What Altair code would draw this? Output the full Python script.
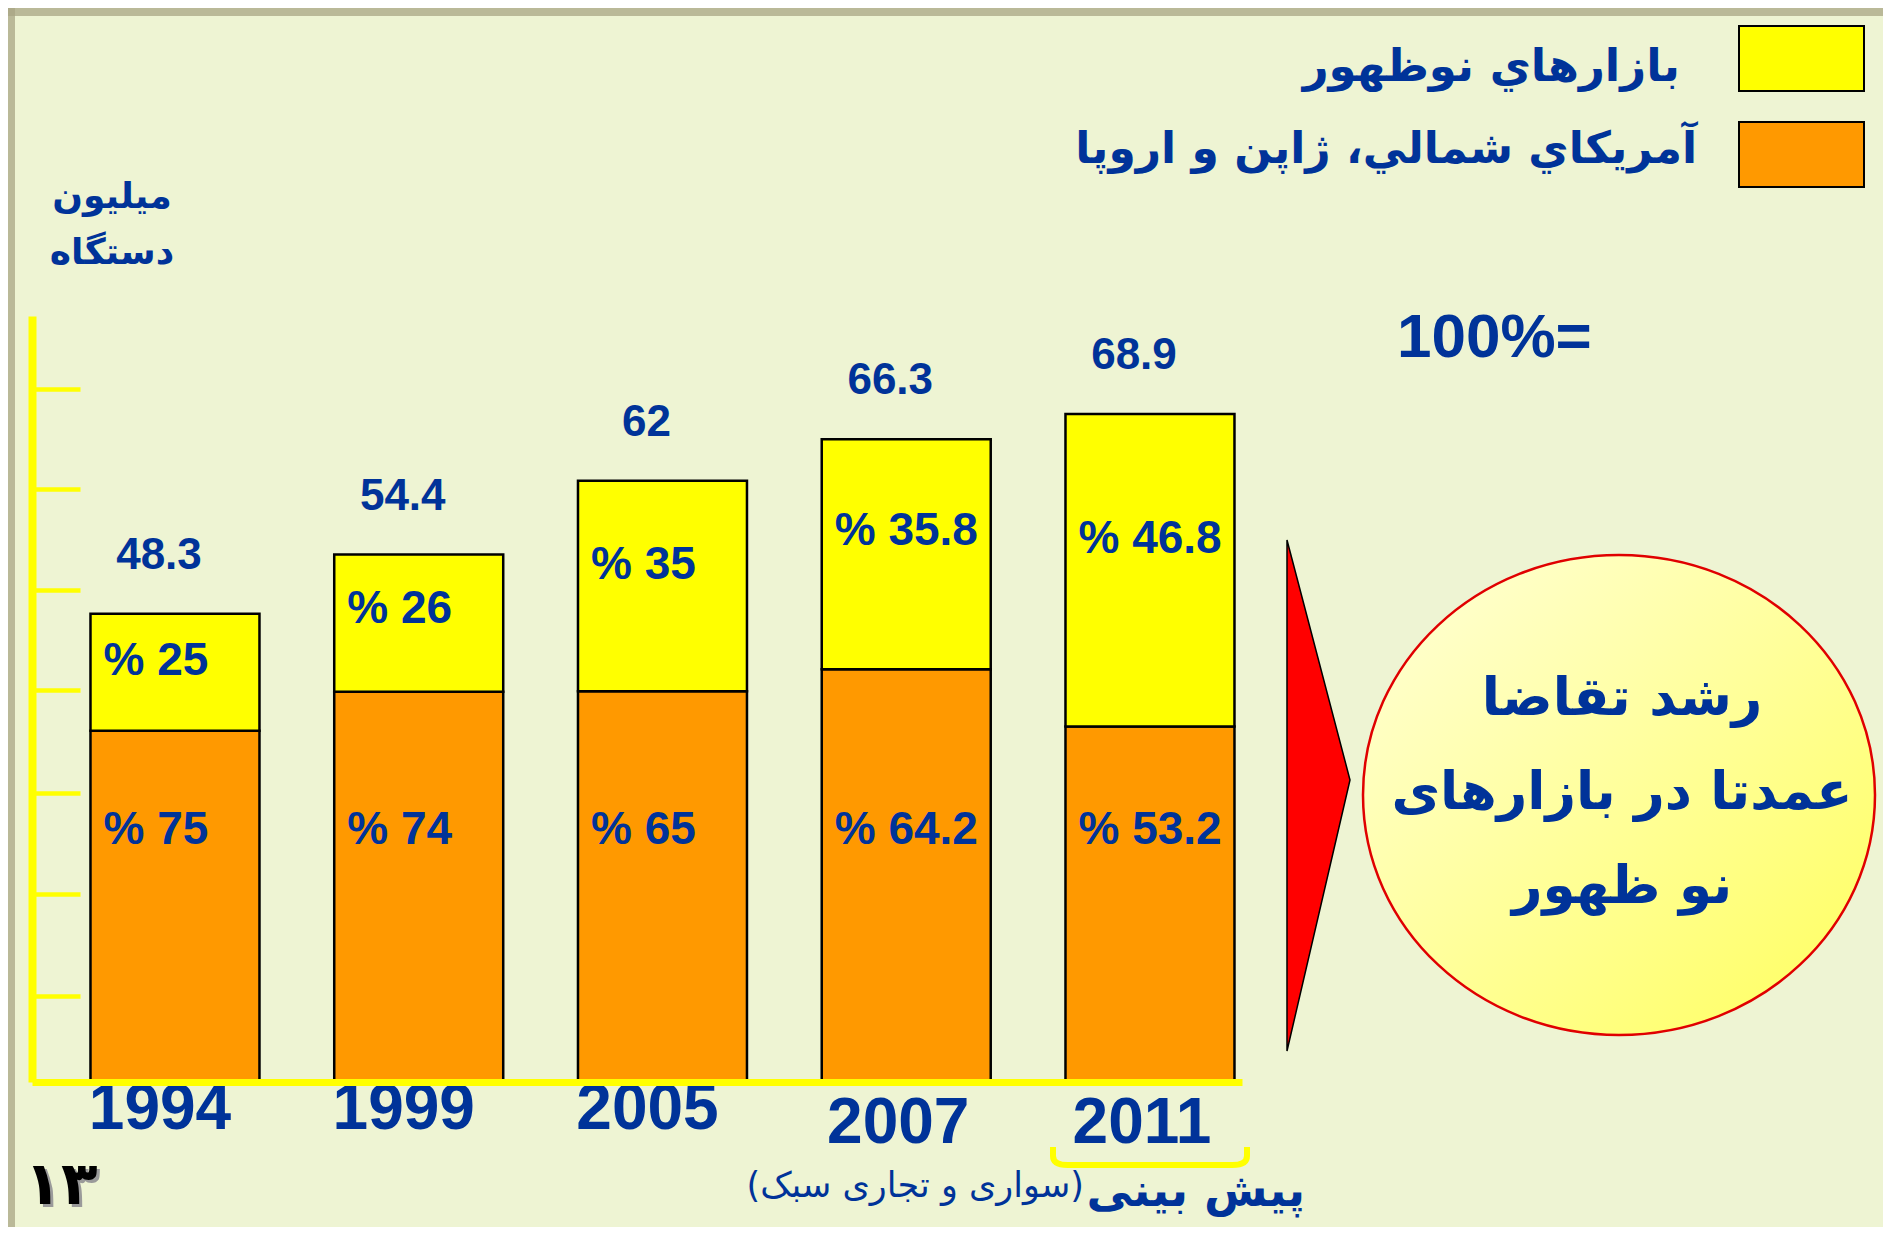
import altair as alt
import pandas as pd

# ---------------- data ----------------
years = ["1994", "1999", "2005", "2007", "2011"]
totals = [48.3, 54.4, 62, 66.3, 68.9]
share_emerging = [25, 26, 35, 35.8, 46.8]
share_mature = [75, 74, 65, 64.2, 53.2]
forecast_years = ["2007", "2011"]
y_ticks = [8.9, 19.4, 29.8, 40.4, 50.7, 61.2, 71.5]

legend_emerging = "بازارهاي نوظهور"
legend_mature = "آمريكاي شمالي، ژاپن و اروپا"
y_title = ["میلیون", "دستگاه"]
callout = ["رشد تقاضا", "عمدتا در بازارهای", "نو ظهور"]
forecast_label = "پیش بینی"
forecast_note = "(سواری و تجاری سبک)"
page_no = "۱۳"
hundred = "100%="

# ---------------- style ----------------
BLUE = "#003399"
YELLOW = "#FFFF00"
ORANGE = "#FF9900"
BG = "#EEF4D3"
NUM_FONT = "Liberation Sans"
AR_FONT = "DejaVu Sans"
W, H = 1210, 766
Y_MAX = 79

rows = []
for yr, t, e, m in zip(years, totals, share_emerging, share_mature):
    split = t * m / 100.0
    rows.append(dict(year=yr, group=legend_mature, lo=0.0, hi=split, label=f"% {m:g}"))
    rows.append(dict(year=yr, group=legend_emerging, lo=split, hi=t, label=f"% {e:g}"))
seg = pd.DataFrame(rows)
tot = pd.DataFrame({"year": years, "total": totals, "label": [f"{v:g}" for v in totals]})

x_scale = alt.Scale(domain=years, paddingInner=0.3067, paddingOuter=0.1354, align=0.886)
y_scale = alt.Scale(domain=[0, Y_MAX], nice=False, zero=True)

x_axis = alt.Axis(title=None, labels=False, ticks=False, tickSize=0, domainColor=YELLOW,
                  domainWidth=7, grid=False, zindex=1)
y_axis = alt.Axis(title=None, labels=False, orient="right", offset=-W, values=y_ticks,
                  tickSize=48, tickWidth=4.5, tickColor=YELLOW, domainColor=YELLOW,
                  domainWidth=8, grid=False, zindex=1)

X = lambda **kw: alt.X("year:N", scale=x_scale, sort=years, axis=x_axis, **kw)

bars = alt.Chart(seg).mark_bar(stroke="black", strokeWidth=2.5, opacity=1).encode(
    x=X(),
    y=alt.Y("lo:Q", scale=y_scale, axis=y_axis),
    y2="hi:Q",
    color=alt.Color("group:N", scale=alt.Scale(domain=[legend_mature, legend_emerging],
                                               range=[ORANGE, YELLOW]), legend=None),
)

txt = dict(font=NUM_FONT, fontWeight="bold", color=BLUE, baseline="middle")

total_labels = alt.Chart(tot).mark_text(fontSize=44, dy=-58, dx=-16, align="center", **txt).encode(
    x=X(), y=alt.Y("total:Q", scale=y_scale, axis=y_axis), text="label:N")

em_labels = alt.Chart(seg).transform_filter(
    alt.datum.group == legend_emerging
).transform_calculate(
    ly="datum.lo + 0.6 * (datum.hi - datum.lo)"
).mark_text(fontSize=46, align="left", dx=13, **txt).encode(
    x=X(bandPosition=0), y=alt.Y("ly:Q", scale=y_scale, axis=y_axis), text="label:N")

ma_labels = alt.Chart(seg).transform_filter(
    alt.datum.group == legend_mature
).mark_text(fontSize=46, align="left", dx=13, **txt).encode(
    x=X(bandPosition=0), y=alt.datum(26), text="label:N")

hist_df = pd.DataFrame({"year": [y for y in years if y not in forecast_years]})
fc_df = pd.DataFrame({"year": forecast_years})
year_hist = alt.Chart(hist_df).mark_text(fontSize=64, dy=28, dx=-15, align="center", **txt).encode(
    x=X(), y=alt.value(H), text="year:N")
year_fc = alt.Chart(fc_df).mark_text(fontSize=64, dy=42, dx=-8, align="center", **txt).encode(
    x=X(), y=alt.value(H), text="year:N")

one = pd.DataFrame({"k": [0]})


def rect(x1, x2, y1, y2, fill, stroke=None, sw=0, op=1.0):
    kw = dict(fill=fill, opacity=op)
    if stroke:
        kw.update(stroke=stroke, strokeWidth=sw)
    return alt.Chart(one).mark_rect(**kw).encode(
        x=alt.value(x1), x2=alt.value(x2), y=alt.value(y1), y2=alt.value(y2))


def label(text, x, y, size, align="center", font=AR_FONT, color=BLUE, weight="bold", lh=None,
          baseline="middle"):
    kw = dict(text=text, fontSize=size, align=align, font=font, color=color,
              fontWeight=weight, baseline=baseline)
    if lh:
        kw["lineHeight"] = lh
    return alt.Chart(one).mark_text(**kw).encode(x=alt.value(x), y=alt.value(y))


# frame shadows
frame_top = rect(-24, 1851, -308, -300, "#A8A684", op=0.75)
frame_left = rect(-24, -17, -308, 915, "#A8A684", op=0.75)

leg_y = rect(1707, 1832, -290, -225, YELLOW, "black", 2)
leg_o = rect(1707, 1832, -194, -129, ORANGE, "black", 2)
leg_t1 = label(legend_emerging, 1648, -249, 45, align="right")
leg_t2 = label(legend_mature, 1665, -166, 44, align="right")

ytitle = label(y_title, 80, -119, 36, lh=56)
hundred_t = label(hundred, 1365, 22, 62, align="left", font=NUM_FONT)

ellipse_path = "M -1 0 A 1 0.9375 0 1 1 1 0 A 1 0.9375 0 1 1 -1 0 Z"
grad = alt.Gradient(gradient="linear", x1=0, y1=0, x2=1, y2=1,
                    stops=[alt.GradientStop(offset=0, color="#FFFFDA"),
                           alt.GradientStop(offset=1, color="#FFFF5C")])
ellipse = alt.Chart(one).mark_point(shape=ellipse_path, size=512 * 512, filled=True, fill=grad,
                                    stroke="#E00000", strokeWidth=2.5, opacity=1).encode(
    x=alt.value(1587), y=alt.value(479))
callout_t = label(callout, 1590, 383, 53, lh=94)

tri_path = "M -0.1233 -1 L 0.1233 -0.0607 L -0.1233 1 Z"
triangle = alt.Chart(one).mark_point(shape=tri_path, size=511 * 511, filled=True, fill="#FF0000",
                                     stroke="black", strokeWidth=1.5, opacity=1).encode(
    x=alt.value(1286.5), y=alt.value(479.5))

br_path = "M -1 -0.093 L -1 0 Q -1 0.093 -0.85 0.093 L 0.85 0.093 Q 1 0.093 1 0 L 1 -0.093"
bracket = alt.Chart(one).mark_point(shape=br_path, size=194 * 194, filled=False, stroke=YELLOW,
                                    strokeWidth=6, opacity=1).encode(
    x=alt.value(1118), y=alt.value(840))

fc_t = label(forecast_label, 1273, 876, 46, align="right")
fc_note = label(forecast_note, 1052, 870, 35, align="right", weight="normal")
page_shadow = label(page_no, 32, 873, 60, color="#9A9A9A")
page_t = label(page_no, 29, 870, 60, color="black")

chart = alt.layer(
    frame_top, frame_left,
    bars, total_labels, em_labels, ma_labels, year_hist, year_fc,
    leg_y, leg_o, leg_t1, leg_t2, ytitle, hundred_t,
    triangle, ellipse, callout_t, bracket, fc_t, fc_note, page_shadow, page_t,
).properties(
    width=W, height=H,
    autosize=alt.AutoSizeParams(type="none"),
    padding={"left": 24, "top": 308, "right": 641, "bottom": 145},
    background=BG,
).configure_view(strokeWidth=0)

chart.save("out.html", embed_options={"renderer": "svg", "actions": False})
